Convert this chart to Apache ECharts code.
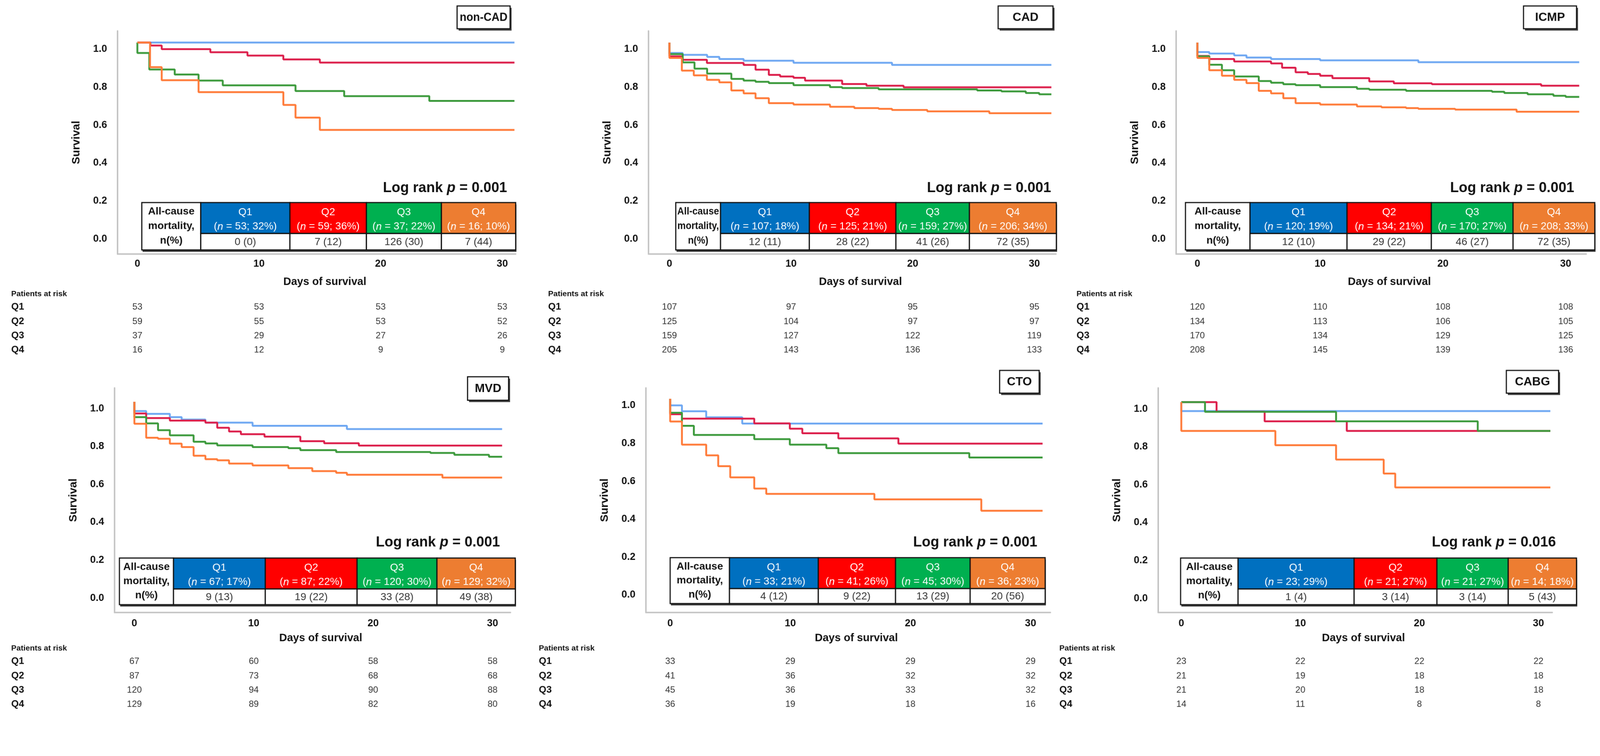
<!DOCTYPE html>
<html><head><meta charset="utf-8">
<script src="https://cdn.jsdelivr.net/npm/echarts@6/dist/echarts.min.js"></script>
<style>html,body{margin:0;padding:0;background:#fff;overflow:hidden}#wrap{position:absolute;left:0;top:0;transform-origin:0 0}#c{width:4288px;height:1936px}</style>
</head><body><div id="wrap"><div id="c"></div></div>
<script>
// ---------------- DATA ----------------
const panelNames = ['non-CAD', 'CAD', 'ICMP', 'MVD', 'CTO', 'CABG'];
const groups = ['Q1', 'Q2', 'Q3', 'Q4'];
const logRankP = ['0.001', '0.001', '0.001', '0.001', '0.001', '0.016'];
const groupN = [[53, 59, 37, 16], [107, 125, 159, 206], [120, 134, 170, 208], [67, 87, 120, 129], [33, 41, 45, 36], [23, 21, 21, 14]];
const groupPct = [[32, 36, 22, 10], [18, 21, 27, 34], [19, 21, 27, 33], [17, 22, 30, 32], [21, 26, 30, 23], [29, 27, 27, 18]];
const mortality = [
  ['0 (0)', '7 (12)', '126 (30)', '7 (44)'],
  ['12 (11)', '28 (22)', '41 (26)', '72 (35)'],
  ['12 (10)', '29 (22)', '46 (27)', '72 (35)'],
  ['9 (13)', '19 (22)', '33 (28)', '49 (38)'],
  ['4 (12)', '9 (22)', '13 (29)', '20 (56)'],
  ['1 (4)', '3 (14)', '3 (14)', '5 (43)']
];
const xTicks = [0, 10, 20, 30];
const yTicks = [0, 0.2, 0.4, 0.6, 0.8, 1.0];
const atRiskDays = [0, 10, 20, 30];
const atRisk_nonCAD = [[53, 53, 53, 53], [59, 55, 53, 52], [37, 29, 27, 26], [16, 12, 9, 9]];
const atRisk_CAD = [[107, 97, 95, 95], [125, 104, 97, 97], [159, 127, 122, 119], [205, 143, 136, 133]];
const atRisk_ICMP = [[120, 110, 108, 108], [134, 113, 106, 105], [170, 134, 129, 125], [208, 145, 139, 136]];
const atRisk_MVD = [[67, 60, 58, 58], [87, 73, 68, 68], [120, 94, 90, 88], [129, 89, 82, 80]];
const atRisk_CTO = [[33, 29, 29, 29], [41, 36, 32, 32], [45, 36, 33, 32], [36, 19, 18, 16]];
const atRisk_CABG = [[23, 22, 22, 22], [21, 19, 18, 18], [21, 20, 18, 18], [14, 11, 8, 8]];

// Kaplan-Meier survival: [day, survival from that day on]
const km_nonCAD_Q1 = [[0, 1], [31, 1]];
const km_nonCAD_Q2 = [[0, 1], [1.07, 0.984], [2.0, 0.965], [6.0, 0.949], [9.05, 0.931], [12.0, 0.911], [15.0, 0.894], [31, 0.894]];
const km_nonCAD_Q3 = [[0, 1], [0, 0.945], [0.98, 0.858], [3.07, 0.831], [5.03, 0.799], [7.02, 0.774], [13.0, 0.744], [17.0, 0.717], [24.0, 0.692], [31, 0.692]];
const km_nonCAD_Q4 = [[0, 1], [1.04, 0.870], [2.0, 0.801], [5.03, 0.738], [12.0, 0.671], [13.0, 0.604], [15.0, 0.539], [31, 0.539]];

const km_CAD_Q1 = [[0, 1], [0, 0.945], [1.09, 0.935], [3.1, 0.924], [4.1, 0.913], [6.1, 0.904], [10.2, 0.893], [18.3, 0.882], [31.4, 0.882]];
const km_CAD_Q2 = [[0, 1], [0, 0.927], [1.09, 0.909], [3.08, 0.892], [6.1, 0.882], [7.08, 0.857], [8.17, 0.829], [9.1, 0.821], [10.2, 0.814], [11.15, 0.799], [14.2, 0.781], [16.2, 0.772], [19.25, 0.764], [31.4, 0.764]];
const km_CAD_Q3 = [[0, 1], [0, 0.939], [1.09, 0.895], [2.06, 0.862], [3.1, 0.836], [5.09, 0.808], [6.1, 0.799], [7.08, 0.793], [8.17, 0.786], [10.2, 0.775], [13.2, 0.765], [14.2, 0.760], [17.2, 0.753], [25.3, 0.747], [27.3, 0.742], [29.3, 0.734], [30.4, 0.727], [31.4, 0.727]];
const km_CAD_Q4 = [[0, 1], [0, 0.919], [1.02, 0.852], [2.0, 0.827], [3.08, 0.803], [4.1, 0.790], [5.09, 0.747], [6.1, 0.732], [7.08, 0.706], [8.17, 0.680], [10.2, 0.673], [13.2, 0.661], [15.2, 0.654], [17.2, 0.650], [18.3, 0.644], [21.2, 0.637], [26.3, 0.627], [31.4, 0.627]];

const km_ICMP_Q1 = [[0, 1], [0, 0.950], [0.97, 0.942], [3.0, 0.932], [4.0, 0.921], [6.0, 0.913], [10.0, 0.906], [18.0, 0.896], [31.1, 0.896]];
const km_ICMP_Q2 = [[0, 1], [0, 0.929], [0.97, 0.913], [3.0, 0.900], [6.0, 0.890], [6.9, 0.867], [8.0, 0.843], [9.0, 0.834], [10.0, 0.825], [11.0, 0.812], [14.0, 0.795], [16.0, 0.785], [19.1, 0.780], [28.0, 0.772], [31.1, 0.772]];
const km_ICMP_Q3 = [[0, 1], [0, 0.927], [0.97, 0.883], [2.0, 0.854], [3.0, 0.821], [5.0, 0.797], [6.0, 0.788], [7.0, 0.780], [8.0, 0.775], [10.0, 0.765], [13.0, 0.756], [14.0, 0.751], [17.0, 0.745], [24.0, 0.740], [25.0, 0.734], [26.9, 0.727], [29.0, 0.719], [30.0, 0.713], [31.1, 0.713]];
const km_ICMP_Q4 = [[0, 1], [0, 0.919], [0.97, 0.854], [2.0, 0.825], [3.0, 0.803], [4.0, 0.786], [5.0, 0.745], [6.0, 0.732], [7.0, 0.706], [8.0, 0.680], [10.0, 0.673], [13.0, 0.663], [15.0, 0.658], [17.0, 0.654], [18.0, 0.650], [21.0, 0.646], [26.0, 0.635], [31.1, 0.635]];

const km_MVD_Q1 = [[0, 1], [0, 0.951], [0.99, 0.936], [2.97, 0.919], [3.96, 0.906], [5.95, 0.890], [9.9, 0.873], [17.8, 0.856], [30.8, 0.856]];
const km_MVD_Q2 = [[0, 1], [0, 0.938], [0.99, 0.914], [2.97, 0.901], [5.95, 0.890], [6.94, 0.863], [7.93, 0.843], [8.92, 0.829], [10.9, 0.816], [13.9, 0.792], [15.9, 0.781], [18.8, 0.769], [30.8, 0.769]];
const km_MVD_Q3 = [[0, 1], [0, 0.919], [0.99, 0.886], [1.98, 0.850], [2.97, 0.823], [4.96, 0.789], [5.95, 0.780], [6.94, 0.770], [9.9, 0.761], [12.9, 0.755], [13.9, 0.745], [16.9, 0.735], [24.8, 0.730], [26.8, 0.720], [29.7, 0.710], [30.8, 0.710]];
const km_MVD_Q4 = [[0, 1], [0, 0.884], [0.99, 0.810], [1.98, 0.805], [2.97, 0.779], [3.96, 0.761], [4.96, 0.715], [5.95, 0.697], [6.94, 0.691], [7.93, 0.674], [9.9, 0.664], [12.9, 0.650], [14.9, 0.634], [16.9, 0.625], [17.8, 0.615], [25.8, 0.600], [30.8, 0.600]];

const km_CTO_Q1 = [[0, 1], [0, 0.965], [0.98, 0.934], [3.0, 0.902], [6.0, 0.869], [31, 0.869]];
const km_CTO_Q2 = [[0, 1], [0, 0.918], [0.98, 0.895], [7.0, 0.870], [9.96, 0.842], [11.0, 0.818], [14.0, 0.791], [19.0, 0.763], [31, 0.763]];
const km_CTO_Q3 = [[0, 1], [0, 0.926], [0.98, 0.857], [1.97, 0.809], [7.0, 0.787], [9.96, 0.758], [13.0, 0.739], [14.0, 0.713], [24.9, 0.690], [31, 0.690]];
const km_CTO_Q4 = [[0, 1], [0, 0.880], [0.98, 0.758], [3.0, 0.701], [4.0, 0.644], [5.0, 0.585], [7.0, 0.526], [8.0, 0.498], [17.0, 0.469], [25.9, 0.409], [31, 0.409]];

const km_CABG_Q1 = [[0, 1], [0, 0.953], [31, 0.953]];
const km_CABG_Q2 = [[0, 1], [2.96, 0.950], [7.0, 0.899], [13.9, 0.848], [31, 0.848]];
const km_CABG_Q3 = [[0, 1], [1.99, 0.949], [13.0, 0.899], [24.9, 0.848], [31, 0.848]];
const km_CABG_Q4 = [[0, 1], [0, 0.848], [7.9, 0.773], [13.0, 0.697], [17.0, 0.623], [17.97, 0.550], [31, 0.550]];

const kmCurves = [
  [km_nonCAD_Q1, km_nonCAD_Q2, km_nonCAD_Q3, km_nonCAD_Q4],
  [km_CAD_Q1, km_CAD_Q2, km_CAD_Q3, km_CAD_Q4],
  [km_ICMP_Q1, km_ICMP_Q2, km_ICMP_Q3, km_ICMP_Q4],
  [km_MVD_Q1, km_MVD_Q2, km_MVD_Q3, km_MVD_Q4],
  [km_CTO_Q1, km_CTO_Q2, km_CTO_Q3, km_CTO_Q4],
  [km_CABG_Q1, km_CABG_Q2, km_CABG_Q3, km_CABG_Q4]
];
const atRisk = [atRisk_nonCAD, atRisk_CAD, atRisk_ICMP, atRisk_MVD, atRisk_CTO, atRisk_CABG];

// ---------------- LAYOUT / STYLE ----------------
const FF = "'Liberation Sans', Arial, sans-serif";
const lineColors = ['#6FA8F2', '#DC1F4B', '#3C9A3C', '#FF7B39'];
const headColors = ['#0070C0', '#FF0000', '#00B050', '#ED7D31'];
const layout = [
  { l: 315, r: 1382, t: 83, b: 681, xmin: -1.63, xmax: 31.1, ymin: -0.116, ymax: 1.061,
    tc: [380, 538, 777, 982, 1183, 1382], tr: [543, 626, 670], tb: [1225, 16, 1367, 77], lr: [1359, 505], rx: 30, ry: [788, 823, 862, 900, 938] },
  { l: 1738, r: 2830, t: 83, b: 681, xmin: -1.72, xmax: 31.78, ymin: -0.116, ymax: 1.061,
    tc: [1811, 1931, 2169, 2401, 2598, 2831], tr: [543, 626, 670], tb: [2675, 16, 2822, 77], lr: [2817, 505], rx: 1469, ry: [788, 823, 862, 900, 938] },
  { l: 3152, r: 4251, t: 83, b: 681, xmin: -1.73, xmax: 31.67, ymin: -0.116, ymax: 1.061,
    tc: [3177, 3350, 3610, 3836, 4055, 4274], tr: [543, 626, 670], tb: [4083, 16, 4225, 77], lr: [4219, 505], rx: 2885, ry: [788, 823, 862, 900, 938] },
  { l: 307, r: 1368, t: 1040, b: 1642, xmin: -1.66, xmax: 31.5, ymin: -0.112, ymax: 1.073,
    tc: [320, 465, 711, 957, 1171, 1381], tr: [1496, 1579, 1621], tb: [1253, 1010, 1363, 1073], lr: [1340, 1455], rx: 30, ry: [1738, 1773, 1812, 1850, 1888] },
  { l: 1731, r: 2815, t: 1040, b: 1642, xmin: -2.02, xmax: 31.65, ymin: -0.128, ymax: 1.057,
    tc: [1796, 1955, 2193, 2400, 2600, 2801], tr: [1495, 1578, 1618], tb: [2679, 993, 2785, 1054], lr: [2780, 1455], rx: 1444, ry: [1738, 1773, 1812, 1850, 1888] },
  { l: 3104, r: 4160, t: 1040, b: 1642, xmin: -1.94, xmax: 31.16, ymin: -0.110, ymax: 1.075,
    tc: [3164, 3318, 3629, 3851, 4042, 4225], tr: [1496, 1579, 1621], tb: [4037, 993, 4177, 1054], lr: [4170, 1455], rx: 2839, ry: [1738, 1773, 1812, 1850, 1888] }
];

// fit the 4288x1936 drawing into the actual viewport
const VW = window.innerWidth || 4288, VH = window.innerHeight || 1936;
const S = Math.min(VW / 4288, VH / 1936);
document.getElementById('wrap').style.transform = 'scale(' + S + ')';

// ---------------- CHART ----------------
const chart = echarts.init(document.getElementById('c'), null, { renderer: 'canvas', width: 4288, height: 1936 });
const grids = [], xAxes = [], yAxes = [], series = [];
layout.forEach((L, p) => {
  grids.push({ left: L.l, top: L.t, width: L.r - L.l, height: L.b - L.t, containLabel: false, outerBoundsMode: 'none' });
  const row2 = p >= 3;
  xAxes.push({
    type: 'value', gridIndex: p, min: L.xmin, max: L.xmax,
    axisLine: { show: true, onZero: false, lineStyle: { color: '#c4c4c4', width: 4 } },
    axisTick: { show: false }, splitLine: { show: false },
    axisLabel: { customValues: xTicks, margin: row2 ? 16 : 13, color: '#111', fontWeight: 'bold', fontSize: 27, fontFamily: FF },
    name: 'Days of survival', nameLocation: 'middle', nameGap: row2 ? 54 : 60,
    nameTextStyle: { color: '#111', fontWeight: 'bold', fontSize: 29, fontFamily: FF, padding: [0, 0, 0, 44] }
  });
  yAxes.push({
    type: 'value', gridIndex: p, min: L.ymin, max: L.ymax,
    axisLine: { show: true, onZero: false, lineStyle: { color: '#c4c4c4', width: 4 } },
    axisTick: { show: false }, splitLine: { show: false },
    axisLabel: { customValues: yTicks, formatter: v => Number(v).toFixed(1), margin: 28,
      verticalAlign: 'top', lineHeight: 36,
      color: '#111', fontWeight: 'bold', fontSize: 27, fontFamily: FF },
    name: 'Survival', nameLocation: 'middle', nameGap: 95,
    nameTextStyle: { color: '#111', fontWeight: 'bold', fontSize: 30, fontFamily: FF }
  });
  kmCurves[p].forEach((curve, g) => {
    series.push({
      type: 'line', name: panelNames[p] + ' ' + groups[g], xAxisIndex: p, yAxisIndex: p,
      data: curve, step: 'end', showSymbol: false, symbol: 'none',
      lineStyle: { color: lineColors[g], width: 5 }, itemStyle: { color: lineColors[g] }, z: 2 + g
    });
  });
});
chart.setOption({ animation: false, backgroundColor: '#ffffff', grid: grids, xAxis: xAxes, yAxis: yAxes, series: series });

// ---------------- ANNOTATIONS (tables, titles, at-risk) ----------------
const mctx = document.createElement('canvas').getContext('2d');
function textW(s, font) { mctx.font = font; return Math.max(...s.split('\n').map(t => mctx.measureText(t).width)); }
function txt(x, y, text, size, opts) {
  opts = opts || {};
  const weight = opts.bold ? 'bold ' : '';
  const font = weight + size + 'px ' + FF;
  let sx = 1;
  if (opts.maxW) { const w = textW(text, font); if (w > opts.maxW) sx = opts.maxW / w; }
  const align = opts.align || 'center', va = opts.va || 'middle';
  return { type: 'text', x: x, y: y, scaleX: sx, silent: true, z: 120,
    style: { text: text, font: font, fontSize: size, fontFamily: FF, fontWeight: opts.bold ? 'bold' : 'normal',
      fill: opts.fill || '#111', align: align, verticalAlign: va, textAlign: align, textVerticalAlign: va,
      lineHeight: opts.lh || undefined } };
}
function richTxt(x, y, parts, size, fill, bold, align, maxW) {
  const plain = parts.map(p => p[0]).join('');
  const font = (bold ? 'bold ' : '') + size + 'px ' + FF;
  let sx = 1;
  if (maxW) { const w = textW(plain, font); if (w > maxW) sx = maxW / w; }
  const rich = {
    a: { fontSize: size, fontFamily: FF, fontWeight: bold ? 'bold' : 'normal', fill: fill },
    i: { fontSize: size, fontFamily: FF, fontWeight: bold ? 'bold' : 'normal', fontStyle: 'italic', fill: fill }
  };
  const text = parts.map(p => '{' + (p[1] ? 'i' : 'a') + '|' + p[0] + '}').join('');
  return { type: 'text', x: x, y: y, scaleX: sx, silent: true, z: 120,
    style: { text: text, rich: rich, align: align, verticalAlign: 'middle', textAlign: align, textVerticalAlign: 'middle' } };
}
function rect(x, y, w, h, fill, stroke, lw, z) {
  return { type: 'rect', silent: true, z: z || 100, shape: { x: x, y: y, width: w, height: h },
    style: { fill: fill, stroke: stroke || null, lineWidth: lw || 0 } };
}

const gfx = [];
layout.forEach((L, p) => {
  const [bx1, by1, bx2, by2] = L.tb;
  gfx.push(rect(bx1 + 4, by1 + 5, bx2 - bx1, by2 - by1, '#444', null, 0, 98));
  gfx.push(rect(bx1, by1, bx2 - bx1, by2 - by1, '#fff', '#111', 3, 99));
  gfx.push(txt((bx1 + bx2) / 2, (by1 + by2) / 2 + 1, panelNames[p], 32, { bold: true, maxW: bx2 - bx1 - 14 }));

  gfx.push(richTxt(L.lr[0], L.lr[1], [['Log rank '], ['p', true], [' = ' + logRankP[p]]], 38, '#111', true, 'right'));

  const c = L.tc, [t, m, b] = L.tr;
  gfx.push(rect(c[0] + 2, t + 5, c[5] - c[0], b - t, '#3a3a3a', null, 0, 98));
  gfx.push(rect(c[0], t, c[1] - c[0], b - t, '#fff', '#111', 3, 100));
  const rowH = b - t;
  gfx.push(txt((c[0] + c[1]) / 2, (t + b) / 2, 'All-cause\nmortality,\nn(%)', 28, { bold: true, lh: rowH * 0.305, maxW: c[1] - c[0] - 8 }));
  for (let g = 0; g < 4; g++) {
    const x1 = c[g + 1], x2 = c[g + 2], cx = (x1 + x2) / 2;
    gfx.push(rect(x1, t, x2 - x1, m - t, headColors[g], '#111', 3, 100));
    gfx.push(rect(x1, m, x2 - x1, b - m, '#fff', '#111', 3, 100));
    gfx.push(txt(cx, t + (m - t) * 0.32, groups[g], 28, { fill: '#fff', maxW: x2 - x1 - 8 }));
    gfx.push(richTxt(cx, t + (m - t) * 0.78, [['('], ['n', true], [' = ' + groupN[p][g] + '; ' + groupPct[p][g] + '%)']], 28, '#fff', false, 'center', x2 - x1 - 8));
    gfx.push(txt(cx, (m + b) / 2 + 1, mortality[p][g], 28, { fill: '#333', maxW: x2 - x1 - 8 }));
  }

  gfx.push(txt(L.rx, L.ry[0], 'Patients at risk', 21, { bold: true, align: 'left' }));
  for (let g = 0; g < 4; g++) {
    gfx.push(txt(L.rx, L.ry[g + 1], groups[g], 26, { bold: true, align: 'left' }));
    atRiskDays.forEach((d, k) => {
      const px = chart.convertToPixel({ xAxisIndex: p }, d);
      gfx.push(txt(px, L.ry[g + 1], String(atRisk[p][g][k]), 24, { fill: '#333' }));
    });
  }
});
chart.setOption({ graphic: gfx });
</script>
</body></html>
